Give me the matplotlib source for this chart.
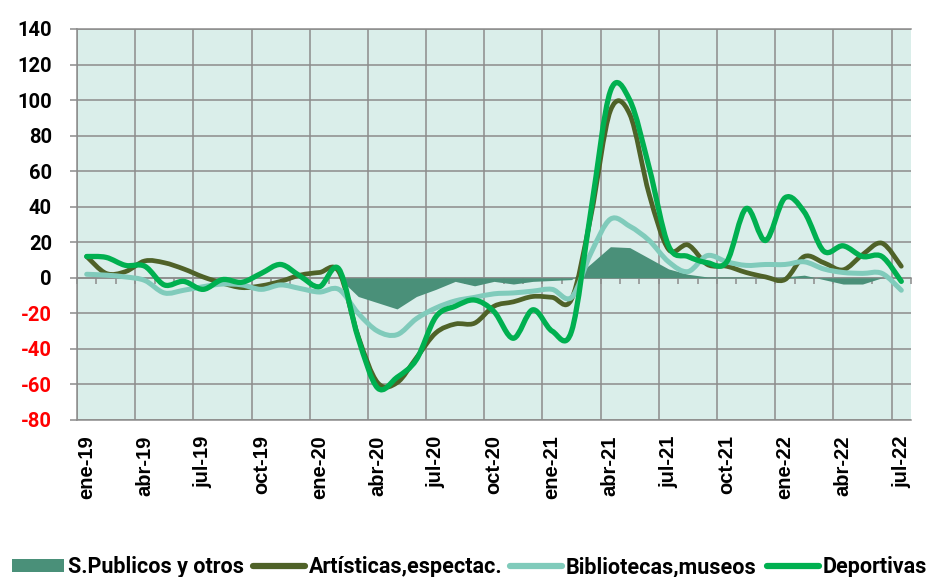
import matplotlib
matplotlib.use('Agg')
import matplotlib.pyplot as plt
from matplotlib.path import Path
from matplotlib.patches import PathPatch, Patch
from matplotlib.lines import Line2D
import numpy as np

months = ['ene-19', 'feb-19', 'mar-19', 'abr-19', 'may-19', 'jun-19', 'jul-19', 'ago-19', 'sep-19', 'oct-19', 'nov-19', 'dic-19',
          'ene-20', 'feb-20', 'mar-20', 'abr-20', 'may-20', 'jun-20', 'jul-20', 'ago-20', 'sep-20', 'oct-20', 'nov-20', 'dic-20',
          'ene-21', 'feb-21', 'mar-21', 'abr-21', 'may-21', 'jun-21', 'jul-21', 'ago-21', 'sep-21', 'oct-21', 'nov-21', 'dic-21',
          'ene-22', 'feb-22', 'mar-22', 'abr-22', 'may-22', 'jun-22', 'jul-22']

s_publicos = [0, 0, 0, 0, 0, 0, 0, 0, 0, 0, 0, 0, 0, 0,
              -10.5, -14, -17.5, -10.5, -6.5, -2, -4.5, -2, -3.5, -2, -1.5, -1,
              8, 17.5, 17, 11, 5, 2, 0.5, 0.5, 0.5, 0, 0.5, 1.5, -1, -3.5, -3.5, 0, 0]
artisticas = [12, 2.5, 3.5, 9.5, 8.5, 5, 0.5, -3, -5.5, -4.5, -2, 1.5, 3, 3.5,
              -33, -59, -59, -45, -31, -26, -25.5, -16, -13.5, -10.5, -11, -12,
              35, 94, 92, 47, 16, 18.5, 7.5, 6.5, 3, 0.5, -1, 12, 8.5, 4.5, 13, 19.5, 6.5]
bibliotecas = [2, 1.5, 0.5, -1.5, -8.5, -7, -5, -3.5, -4, -6.5, -4, -6, -8, -6.5,
               -20, -30, -32, -23, -17, -13, -11, -9, -8.5, -7.5, -6.5, -11,
               14, 33, 29, 21, 9, 3.5, 12.5, 9, 7, 7.5, 7.5, 9, 5, 3, 2.5, 2.5, -7]
deportivas = [12, 11.5, 7, 6.5, -4, -2, -6.5, -1, -2.5, 2.5, 7.5, 1, -5, 5,
              -34, -62, -56, -46, -22, -16, -12.5, -19, -34, -18, -30, -30,
              38, 105, 100, 62, 18, 12, 8.5, 9, 39, 21, 45, 37, 15, 18, 12, 12, -2]

gray = '#8c8c8c'
bg = '#daeeea'
c_area = '#4a9079'
c_art = '#4f6228'
c_bib = '#80cbbb'
c_dep = '#00b050'


def smooth_path(x, y):
    # excel-like smoothed line: bezier through every point
    n = len(x)
    verts = [(x[0], y[0])]
    codes = [Path.MOVETO]
    for i in range(n - 1):
        a = i - 1 if i > 0 else i
        d = i + 2 if i + 2 < n else i + 1
        c1 = (x[i] + (x[i + 1] - x[a]) / 6, y[i] + (y[i + 1] - y[a]) / 6)
        c2 = (x[i + 1] - (x[d] - x[i]) / 6, y[i + 1] - (y[d] - y[i]) / 6)
        verts += [c1, c2, (x[i + 1], y[i + 1])]
        codes += [Path.CURVE4] * 3
    return Path(verts, codes)


fig = plt.figure(figsize=(9.29, 5.77), dpi=100)
ax = fig.add_axes([77 / 929, 1 - 420 / 577, 834 / 929, 391 / 577])
ax.set_facecolor(bg)

x = np.arange(len(months))
ax.fill_between(x, s_publicos, 0, color=c_area, lw=0, zorder=2)

for vals, col, lw in [(artisticas, c_art, 3.4), (bibliotecas, c_bib, 3.6), (deportivas, c_dep, 3.8)]:
    p = PathPatch(smooth_path(x, vals), fill=False, ec=col, lw=lw, capstyle='round', joinstyle='round', zorder=3)
    ax.add_patch(p)

ax.set_xlim(-0.5, len(months) - 0.5)
ax.set_ylim(-80, 140)

# y axis
yt = np.arange(-80, 141, 20)
ax.set_yticks(yt)
ax.set_yticklabels([str(v) for v in yt], fontfamily='Roboto', fontweight='bold', fontsize=14.5)
for lab, v in zip(ax.get_yticklabels(), yt):
    lab.set_color('red' if v < 0 else 'black')
ax.tick_params(axis='y', direction='out', length=5, width=1.1, color=gray, pad=13)
ax.yaxis.grid(True, color=gray, lw=1.1)

# x axis
ax.set_xticks(x[::3])
ax.set_xticklabels(months[::3], rotation=90, fontfamily='Liberation Sans', fontweight='bold', fontsize=14.5)
ax.set_xticks(np.arange(-0.5, len(months), 3), minor=True)
ax.tick_params(axis='x', which='both', length=0, pad=11)
ax.xaxis.grid(True, which='minor', color=gray, lw=1.1)
ax.xaxis.grid(False, which='major')
ax.set_axisbelow(True)

for s in ['left', 'bottom', 'top']:
    ax.spines[s].set_color(gray)
    ax.spines[s].set_linewidth(1.1)
ax.spines['right'].set_visible(False)

# category axis crossing at 0 with small ticks
sec = ax.secondary_xaxis(80 / 220)
sec.set_xticks(np.arange(-0.5, len(months), 1))
sec.set_xticklabels([])
sec.tick_params(axis='x', direction='out', length=4, width=1.1, color=gray)
sec.spines['bottom'].set_color(gray)
sec.spines['bottom'].set_linewidth(1.1)

handles = [Patch(facecolor=c_area, edgecolor='none'),
           Line2D([], [], color=c_art, lw=4.5, solid_capstyle='round'),
           Line2D([], [], color=c_bib, lw=4.5, solid_capstyle='round'),
           Line2D([], [], color=c_dep, lw=4.5, solid_capstyle='round')]
labels = ['S.Publicos y otros', 'Artísticas,espectac.', 'Bibliotecas,museos', 'Deportivas']
starts = [12, 253, 510, 767]
for h, lab, x0 in zip(handles, labels, starts):
    fig.legend([h], [lab], loc='center left', bbox_to_anchor=(x0 / 929, 1 - 567 / 577),
               frameon=False, borderpad=0, borderaxespad=0, handlelength=2.4, handleheight=0.6,
               handletextpad=0.2, prop={'family': 'Roboto', 'weight': 'bold', 'size': 15.5})

fig.savefig('out.png', dpi=100)
